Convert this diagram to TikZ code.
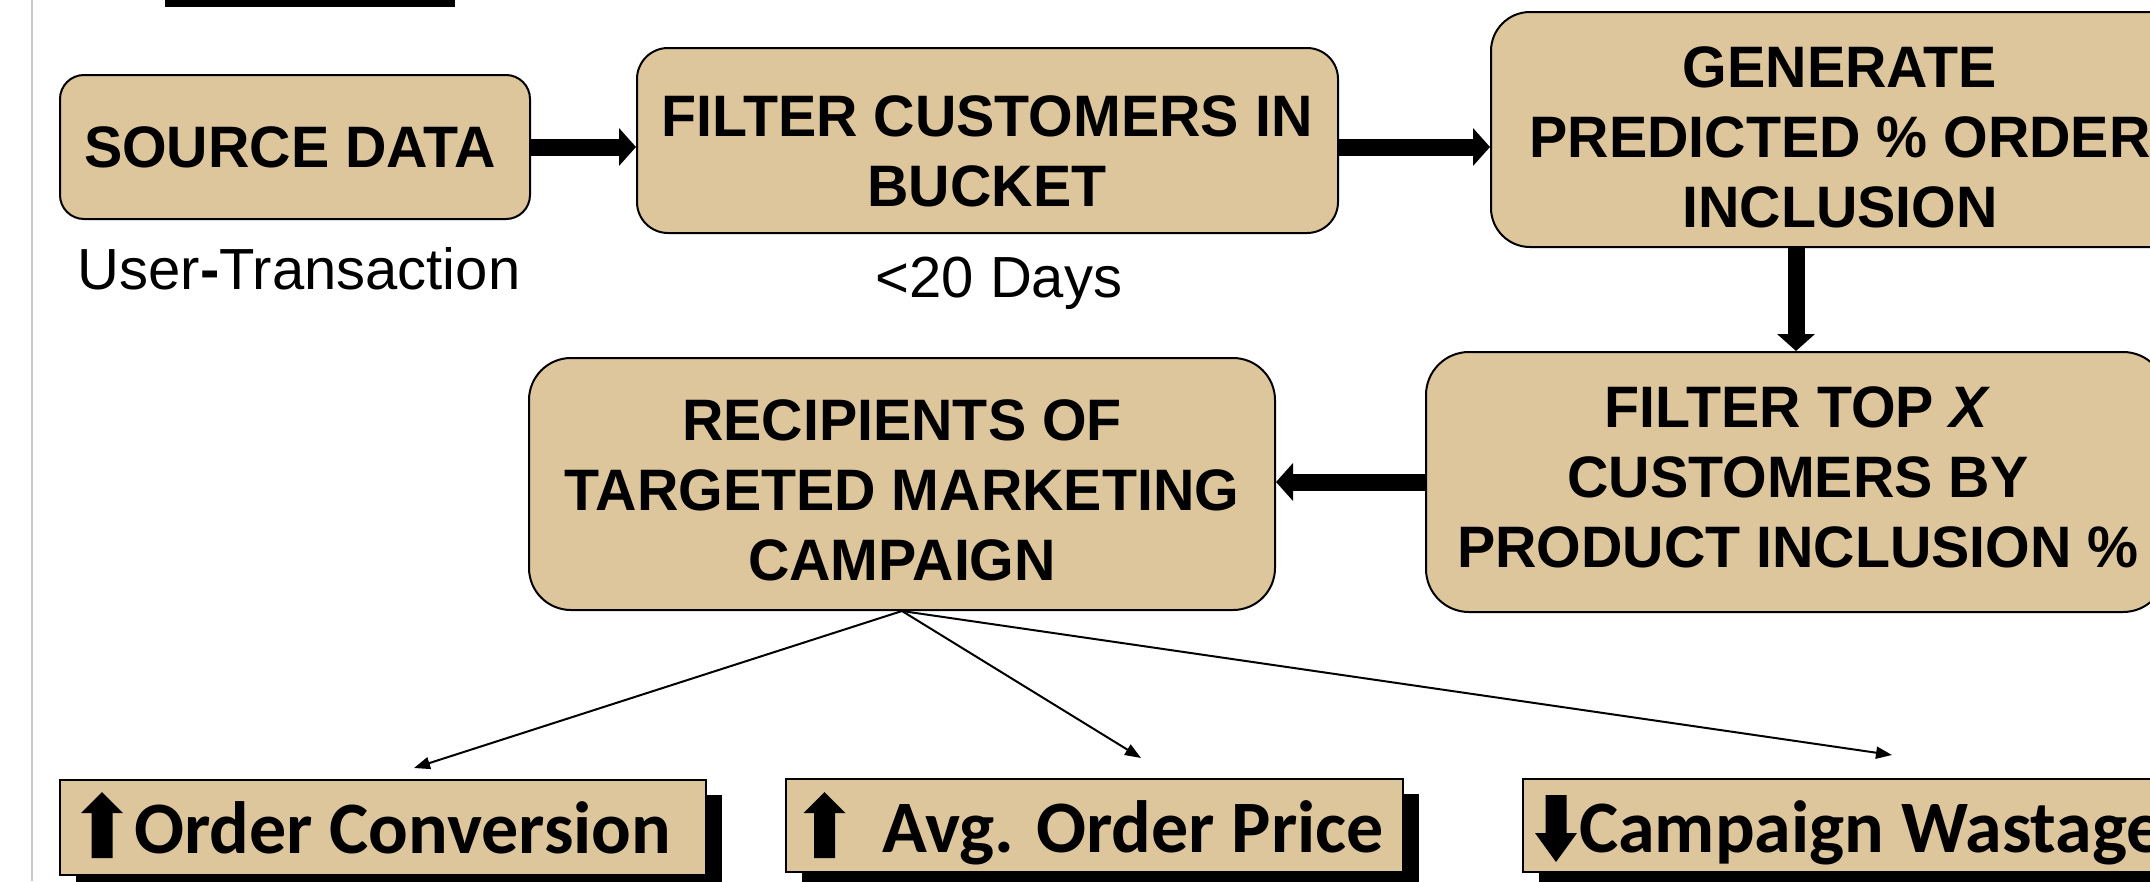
\documentclass[tikz,border=0pt]{standalone}
\usepackage{fontspec}
\setmainfont{Liberation Sans}
\newfontfamily\hfont{Liberation Sans}[FakeStretch=0.98]
\newfontfamily\cfont{Carlito}
\usetikzlibrary{arrows.meta,shadows}
\definecolor{boxtan}{RGB}{221,198,155}
\definecolor{edgegray}{RGB}{200,200,200}
\tikzset{
  fatup/.pic={\fill[black] (-10.5,0) -- (-10.5,-45) -- (-21,-45) -- (0,-66) -- (21,-45) -- (10.5,-45) -- (10.5,0) -- cycle;},
  fatdown/.pic={\fill[black] (-10.5,0) -- (-10.5,38) -- (-21,38) -- (0,67) -- (21,38) -- (10.5,38) -- (10.5,0) -- cycle;}
}
\begin{document}
\begin{tikzpicture}[x=1pt,y=-1pt,
  rbox/.style={draw=black, line width=2pt, fill=boxtan, inner sep=0pt},
  btxt/.style={font=\hfont\bfseries\fontsize{58.5}{70}\selectfont, align=center, inner sep=0pt},
  ltxt/.style={font=\fontsize{58}{70}\selectfont, inner sep=0pt, anchor=base},
  fatarrow/.style={line width=17pt, -{Triangle[length=17pt,width=37pt]}},
  thinarrow/.style={line width=2pt, -{Triangle[length=16pt,width=12pt]}},
  obox/.style={draw=black, line width=2pt, fill=boxtan, inner sep=0pt,
    drop shadow={shadow xshift=16pt, shadow yshift=-15pt, fill=black, opacity=1}},
  otxt/.style={font=\cfont\bfseries\fontsize{74}{88}\selectfont, inner sep=0pt, anchor=base west},
]
\useasboundingbox (0,0) rectangle (2150,881);
\clip (0,0) rectangle (2150,881);
\fill[white] (0,0) rectangle (2150,881);
\draw[edgegray, line width=2.5pt] (32,0) -- (32,881);
\fill[black] (165,0) rectangle (455,7);

% rounded process boxes
\node[rbox, rounded corners=24pt, minimum width=470pt, minimum height=144pt] (src) at (295,147) {};
\node[rbox, rounded corners=31pt, minimum width=701pt, minimum height=185pt] (filt) at (987.5,140.5) {};
\node[rbox, rounded corners=39pt, minimum width=698pt, minimum height=235pt] (gen) at (1840,129.5) {};
\node[rbox, rounded corners=43pt, minimum width=740pt, minimum height=260pt] (ftop) at (1796,482) {};
\node[rbox, rounded corners=42pt, minimum width=746pt, minimum height=252pt] (rec) at (902,484) {};

\node[btxt] (srct) at (290,147) {SOURCE DATA};
\node[btxt] (filtt) at (987,151) {FILTER CUSTOMERS IN\\BUCKET};
\node[btxt] (gent) at (1840,137) {GENERATE\\PREDICTED \% ORDER\\INCLUSION};
\node[btxt] (ftopt) at (1798,477) {FILTER TOP \textit{X}\\CUSTOMERS BY\\PRODUCT INCLUSION \%};
\node[btxt] (rect) at (902,490) {RECIPIENTS OF\\TARGETED MARKETING\\CAMPAIGN};

\node[ltxt] (srcl) at (299,289) {User\textbf{-}Transaction};
\node[ltxt] (filtl) at (999,297) {<20 Days};

% thick arrows
\draw[fatarrow] (src.east) -- (src.east -| filt.west);
\draw[fatarrow] (filt.east |- src.east) -- (src.east -| gen.west);
\draw[fatarrow] (gen.south -| ftop.north) -- (ftop.north);
\draw[fatarrow] (ftop.west) -- (ftop.west -| rec.east);

% thin arrows
\coordinate (t1) at (414,768);
\coordinate (t2) at (1141,758);
\coordinate (t3) at (1892,755);
\draw[thinarrow] (rec.south) -- (t1);
\draw[thinarrow] (rec.south) -- (t2);
\draw[thinarrow] (rec.south) -- (t3);

% outcome boxes
\node[obox, minimum width=646pt, minimum height=95pt] (o1) at (383,827.5) {};
\node[obox, minimum width=617pt, minimum height=93pt] (o2) at (1094.5,825.5) {};
\node[obox, minimum width=677pt, minimum height=93pt] (o3) at (1861.5,825.5) {};

\node[otxt] (o1t) at (134,853) {Order Conversion};
\node[otxt] (o2t) at (882,852) {Avg. Order Price};
\node[otxt] (o3t) at (1579,852) {Campaign Wastage};

\pic at (102,858) {fatup};
\pic at (824.5,858) {fatup};
\pic at (1556,795) {fatdown};
\end{tikzpicture}
\end{document}
